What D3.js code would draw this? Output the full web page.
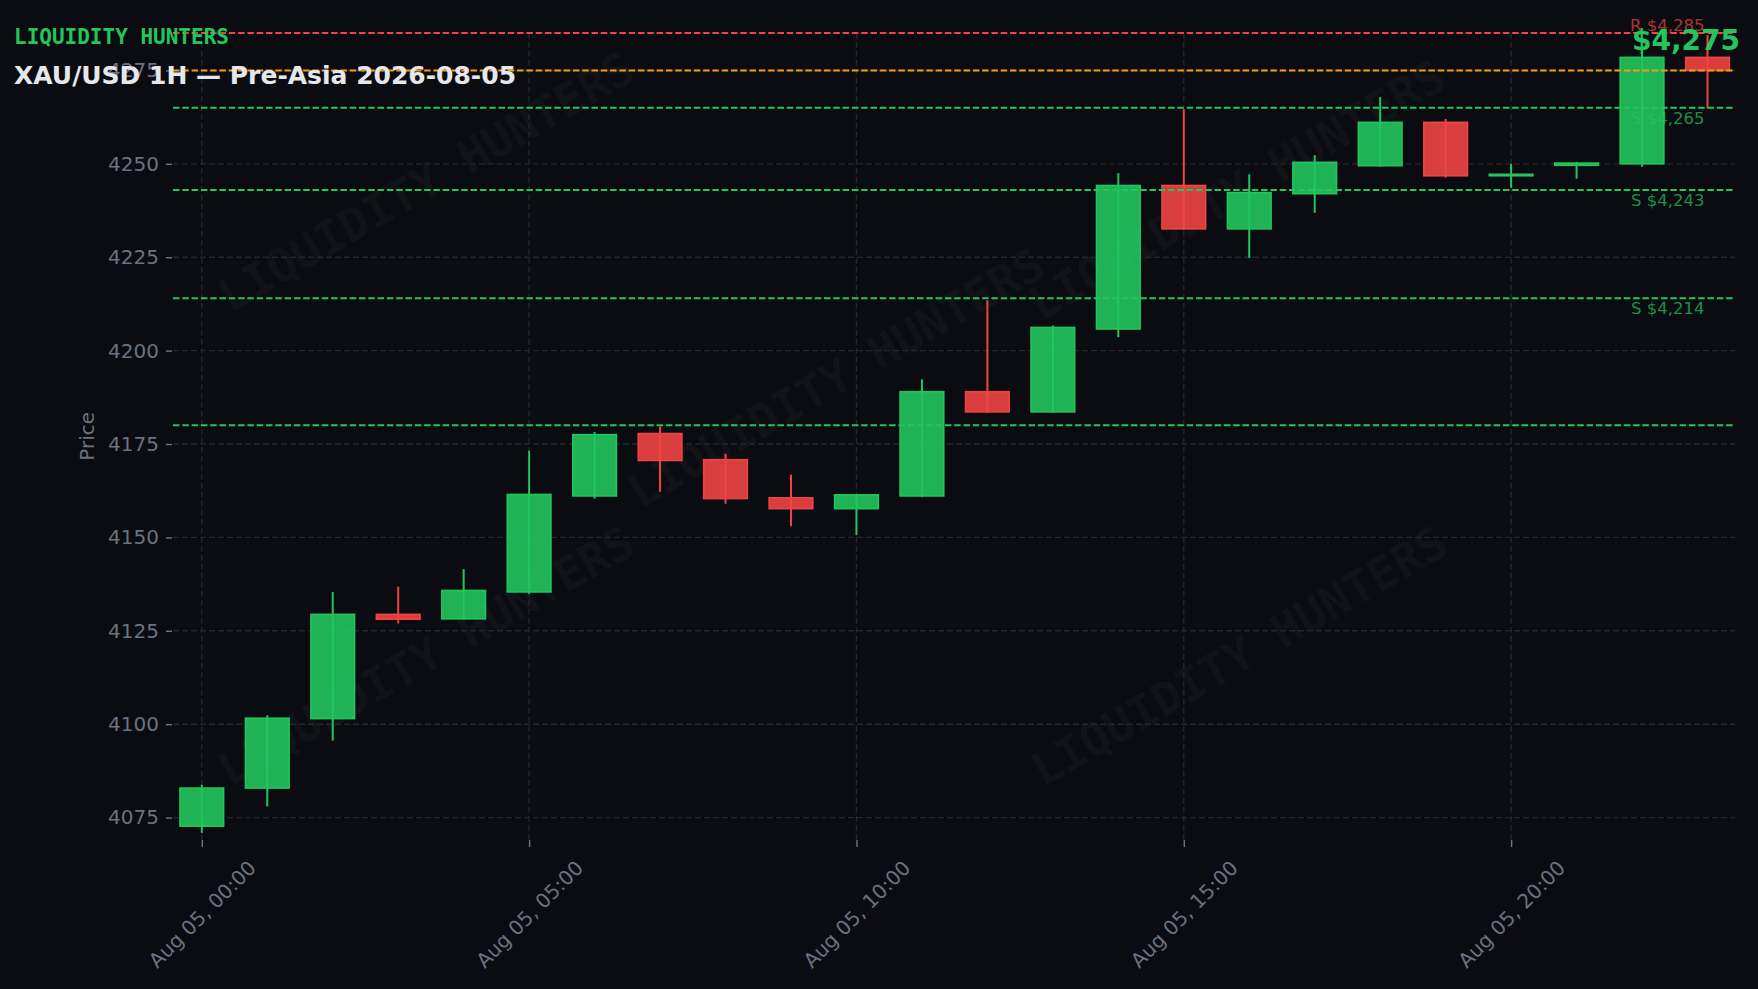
<!DOCTYPE html>
<html><head><meta charset="utf-8">
<script src="https://cdn.jsdelivr.net/npm/d3@7"></script>
<style>
html,body{margin:0;padding:0;background:#0b0c11;}
svg{display:block;}
</style></head><body>
<svg id="chart" width="1758" height="989"></svg>
<script>
// ---------- data ----------
const hours  = [0,1,2,3,4,5,6,7,8,9,10,11,12,13,14,15,16,17,18,19,20,21,22,23];
const opens  = [4072.7,4082.9,4101.5,4129.4,4128.2,4135.4,4161.1,4177.8,4170.8,4160.6,4157.7,4161.1,4189.0,4183.6,4205.8,4244.2,4232.6,4242.0,4249.5,4261.1,4246.8,4249.6,4250.0,4278.5];
const highs  = [4083.8,4102.4,4135.4,4136.8,4141.5,4173.2,4178.2,4179.7,4172.4,4166.8,4161.6,4192.3,4213.5,4206.7,4247.5,4264.6,4247.2,4252.3,4267.9,4262.0,4250.0,4250.4,4281.0,4284.5];
const lows   = [4070.9,4078.0,4095.6,4127.0,4128.0,4134.9,4160.4,4162.2,4159.0,4153.0,4150.6,4160.8,4183.3,4183.4,4203.6,4232.3,4224.8,4236.9,4249.2,4246.3,4243.6,4246.0,4249.2,4264.8];
const closes = [4082.9,4101.6,4129.4,4128.1,4135.8,4161.5,4177.5,4170.6,4160.4,4157.7,4161.4,4189.0,4183.6,4206.2,4244.2,4232.6,4242.3,4250.4,4261.1,4246.8,4247.2,4250.2,4278.5,4275.0];
const yTicks = [4075,4100,4125,4150,4175,4200,4225,4250,4275];
const xTickHours = [0,5,10,15,20];
const levelPrices = [4285,4275,4265,4243,4214,4180];
const levelKinds  = ["R","P","S","S","S","S"];
const levelLabels = ["R $4,285","","S $4,265","S $4,243","S $4,214",""];
const lastPrice = 4275;
const brandText = "LIQUIDITY HUNTERS";
const titleText = "XAU/USD 1H \u2014 Pre-Asia 2026-08-05";
const yAxisTitle = "Price";
const dayUTC = Date.UTC(2026,7,5,0,0);

// ---------- layout ----------
const W = 1758, H = 989;
const plot = {left:173, right:1735, top:32.7, bottom:840};
const C = {bg:"#0b0c11", up:"#22c55e", down:"#ef4444", orange:"#f59e0b",
           grid:"#25262e", tick:"#6b7280", title:"#e5e7eb"};
const HOUR = 3600e3;
const toTime = h => new Date(dayUTC + h*HOUR);

const svg = d3.select("#chart");
svg.append("rect").attr("width",W).attr("height",H).attr("fill",C.bg);

const x = d3.scaleTime()
  .domain([toTime(-0.44), toTime(23.42)])
  .range([plot.left, plot.right]);
const y = d3.scaleLinear()
  .domain([4069.0, 4285.1])
  .range([plot.bottom, plot.top]);

const candles = hours.map((h,i)=>({t:toTime(h), o:opens[i], h:highs[i], l:lows[i], c:closes[i]}));

// ---------- watermark ----------
const wm = svg.append("g");
[[426,182],[836,378],[1237,190],[426,656],[1239,656]].forEach(([cx,cy])=>{
  wm.append("text")
    .attr("transform",`translate(${cx},${cy}) rotate(-30)`)
    .attr("text-anchor","middle").attr("dominant-baseline","central")
    .attr("font-family","'DejaVu Sans Mono', monospace").attr("font-weight","bold")
    .attr("font-size",46).attr("fill","#ffffff").attr("fill-opacity",0.045)
    .text(brandText);
});

// ---------- grid ----------
const grid = svg.append("g");
grid.selectAll("line.h").data(yTicks).join("line")
  .attr("x1",plot.left).attr("x2",plot.right)
  .attr("y1",d=>y(d)).attr("y2",d=>y(d))
  .attr("stroke",C.grid).attr("stroke-width",1.4).attr("stroke-dasharray","6,3");
grid.selectAll("line.v").data(xTickHours).join("line")
  .attr("x1",d=>x(toTime(d))).attr("x2",d=>x(toTime(d)))
  .attr("y1",plot.top).attr("y2",plot.bottom)
  .attr("stroke",C.grid).attr("stroke-width",1.4).attr("stroke-dasharray","6,3");

// ---------- axes ----------
const yAxis = d3.axisLeft(y).tickValues(yTicks).tickSize(6).tickPadding(7).tickFormat(d3.format("d"));
const gy = svg.append("g").attr("transform",`translate(${plot.left-1},0)`).call(yAxis);
gy.select(".domain").remove();
gy.selectAll(".tick line").attr("stroke",C.tick).attr("stroke-width",1.4);
gy.selectAll(".tick text").attr("fill",C.tick).attr("font-family","'DejaVu Sans', sans-serif").attr("font-size",20);

const fmt = d3.utcFormat("%b %d, %H:%M");
const xAxis = d3.axisBottom(x).tickValues(xTickHours.map(toTime)).tickSize(7).tickFormat(fmt);
const gx = svg.append("g").attr("transform",`translate(0,${plot.bottom})`).call(xAxis);
gx.select(".domain").remove();
gx.selectAll(".tick line").attr("stroke",C.tick).attr("stroke-width",1.4);
const xfs = 20;
gx.selectAll(".tick text")
  .attr("fill",C.tick).attr("font-family","'DejaVu Sans', sans-serif").attr("font-size",xfs)
  .attr("text-anchor","middle").attr("dominant-baseline","central")
  .attr("y",null).attr("dy",null)
  .each(function(){
    const L = this.getComputedTextLength();
    const half = (L + xfs*1.16) * Math.SQRT1_2 / 2;
    d3.select(this).attr("transform",`translate(0,${16 + half}) rotate(-45)`);
  });

svg.append("text")
  .attr("transform",`translate(87,${(plot.top+plot.bottom)/2}) rotate(-90)`)
  .attr("text-anchor","middle").attr("dominant-baseline","central")
  .attr("font-family","'DejaVu Sans', sans-serif").attr("font-size",20).attr("fill",C.tick)
  .text(yAxisTitle);

// ---------- candles ----------
const half = (x(toTime(1/3)) - x(toTime(0)));
const cg = svg.append("g");
cg.selectAll("line.wick").data(candles).join("line")
  .attr("x1",d=>x(d.t)).attr("x2",d=>x(d.t))
  .attr("y1",d=>y(d.h)).attr("y2",d=>y(d.l))
  .attr("stroke",d=>d.c>=d.o?C.up:C.down).attr("stroke-width",2);
cg.selectAll("rect.body").data(candles).join("rect")
  .attr("x",d=>x(d.t)-half).attr("width",half*2)
  .attr("y",d=>y(Math.max(d.o,d.c)))
  .attr("height",d=>Math.max(1.2, Math.abs(y(d.o)-y(d.c))))
  .attr("fill",d=>d.c>=d.o?C.up:C.down).attr("fill-opacity",0.9)
  .attr("stroke",d=>d.c>=d.o?C.up:C.down).attr("stroke-width",1.6);

// ---------- levels ----------
const lv = svg.append("g");
levelPrices.forEach((p,i)=>{
  const k = levelKinds[i];
  const col = k==="R"?C.down:(k==="P"?C.orange:C.up);
  lv.append("line")
    .attr("x1",plot.left).attr("x2",plot.right).attr("y1",y(p)).attr("y2",y(p))
    .attr("stroke",col).attr("stroke-width",2).attr("stroke-dasharray","6.5,2.8");
  if(levelLabels[i]){
    lv.append("text")
      .attr("x",1704.5).attr("y", k==="R"? y(p)-2.2 : y(p)+16)
      .attr("text-anchor","end")
      .attr("font-family","'DejaVu Sans', sans-serif").attr("font-size",16.5)
      .attr("fill",col).attr("fill-opacity",0.72)
      .text(levelLabels[i]);
  }
});

// ---------- texts ----------
svg.append("text").attr("x",1740).attr("y",50).attr("text-anchor","end")
  .attr("font-family","'DejaVu Sans', sans-serif").attr("font-weight","bold").attr("font-size",28)
  .attr("fill",C.up).text("$" + d3.format(",")(lastPrice));
svg.append("text").attr("x",14).attr("y",44.3)
  .attr("font-family","'DejaVu Sans Mono', monospace").attr("font-weight","bold").attr("font-size",21)
  .attr("fill",C.up).text(brandText);
svg.append("text").attr("x",14).attr("y",84.3)
  .attr("font-family","'DejaVu Sans', sans-serif").attr("font-weight","bold").attr("font-size",25)
  .attr("fill",C.title).text(titleText);
</script>
</body></html>
